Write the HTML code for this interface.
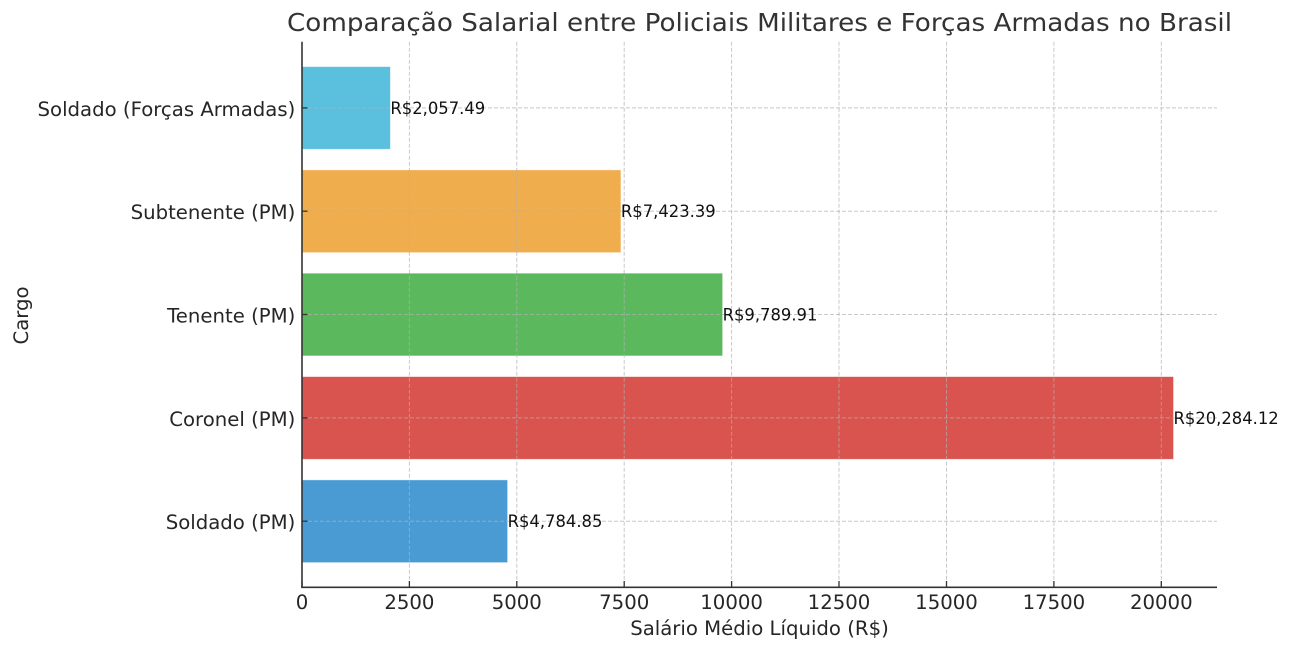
<!DOCTYPE html>
<html><head><meta charset="utf-8"><style>
html,body{margin:0;padding:0;background:#fff;}
svg{display:block;}
text{font-family:"DejaVu Sans","Liberation Sans",sans-serif;}
</style></head><body>
<svg width="1290" height="651" viewBox="0 0 1290 651" xmlns="http://www.w3.org/2000/svg">
<rect width="1290" height="651" fill="#fff"/>
<!-- bars -->
<g stroke="#ffffff" stroke-opacity="0.5" stroke-width="0.8">
<rect x="302" y="66.6" width="88.4" height="82.7" fill="#5bc0de"/>
<rect x="302" y="169.9" width="318.9" height="82.7" fill="#f0ad4e"/>
<rect x="302" y="273.2" width="420.6" height="82.7" fill="#5cb85c"/>
<rect x="302" y="376.6" width="871.5" height="82.7" fill="#d9534f"/>
<rect x="302" y="479.9" width="205.6" height="82.7" fill="#4a9bd4"/>
</g>
<!-- grid -->
<g stroke="#b0b0b0" stroke-opacity="0.7" stroke-width="1" stroke-dasharray="4,2" fill="none">
<line x1="409.4" y1="41.7" x2="409.4" y2="587.3"/>
<line x1="516.8" y1="41.7" x2="516.8" y2="587.3"/>
<line x1="624.2" y1="41.7" x2="624.2" y2="587.3"/>
<line x1="731.6" y1="41.7" x2="731.6" y2="587.3"/>
<line x1="839.0" y1="41.7" x2="839.0" y2="587.3"/>
<line x1="946.5" y1="41.7" x2="946.5" y2="587.3"/>
<line x1="1053.9" y1="41.7" x2="1053.9" y2="587.3"/>
<line x1="1161.3" y1="41.7" x2="1161.3" y2="587.3"/>
<line x1="302" y1="107.9" x2="1217" y2="107.9"/>
<line x1="302" y1="211.2" x2="1217" y2="211.2"/>
<line x1="302" y1="314.5" x2="1217" y2="314.5"/>
<line x1="302" y1="417.9" x2="1217" y2="417.9"/>
<line x1="302" y1="521.2" x2="1217" y2="521.2"/>
</g>
<!-- spines -->
<g stroke="#333" stroke-width="1.6" fill="none">
<line x1="302" y1="41.7" x2="302" y2="588"/>
<line x1="301.2" y1="587.3" x2="1217" y2="587.3"/>
</g>
<!-- ticks -->
<g stroke="#333" stroke-width="1.3">
<line x1="302" y1="581" x2="302" y2="587.3"/>
<line x1="409.4" y1="581" x2="409.4" y2="587.3"/>
<line x1="516.8" y1="581" x2="516.8" y2="587.3"/>
<line x1="624.2" y1="581" x2="624.2" y2="587.3"/>
<line x1="731.6" y1="581" x2="731.6" y2="587.3"/>
<line x1="839.0" y1="581" x2="839.0" y2="587.3"/>
<line x1="946.5" y1="581" x2="946.5" y2="587.3"/>
<line x1="1053.9" y1="581" x2="1053.9" y2="587.3"/>
<line x1="1161.3" y1="581" x2="1161.3" y2="587.3"/>
<line x1="302" y1="107.9" x2="307.5" y2="107.9"/>
<line x1="302" y1="211.2" x2="307.5" y2="211.2"/>
<line x1="302" y1="314.5" x2="307.5" y2="314.5"/>
<line x1="302" y1="417.9" x2="307.5" y2="417.9"/>
<line x1="302" y1="521.2" x2="307.5" y2="521.2"/>
</g>
<!-- x tick labels -->
<g font-size="19.7" fill="#262626" text-anchor="middle">
<text x="302" y="609">0</text>
<text x="409.4" y="609">2500</text>
<text x="516.8" y="609">5000</text>
<text x="624.2" y="609">7500</text>
<text x="731.6" y="609">10000</text>
<text x="839.0" y="609">12500</text>
<text x="946.5" y="609">15000</text>
<text x="1053.9" y="609">17500</text>
<text x="1161.3" y="609">20000</text>
</g>
<!-- y tick labels -->
<g font-size="19.7" fill="#262626" text-anchor="end">
<text x="295.3" y="115.8">Soldado (Forças Armadas)</text>
<text x="295.3" y="219.1">Subtenente (PM)</text>
<text x="295.3" y="322.4">Tenente (PM)</text>
<text x="295.3" y="425.8">Coronel (PM)</text>
<text x="295.3" y="529.1">Soldado (PM)</text>
</g>
<!-- value labels -->
<g font-size="16.4" fill="#111">
<text x="390.4" y="113.9">R$2,057.49</text>
<text x="620.9" y="217.2">R$7,423.39</text>
<text x="722.6" y="320.5">R$9,789.91</text>
<text x="1173.5" y="423.9">R$20,284.12</text>
<text x="507.6" y="527.2">R$4,784.85</text>
</g>
<!-- axis labels -->
<text x="759.5" y="635" font-size="19.7" fill="#262626" text-anchor="middle">Salário Médio Líquido (R$)</text>
<text transform="translate(28,315.5) rotate(-90)" font-size="19.7" fill="#262626" text-anchor="middle">Cargo</text>
<!-- title -->
<text x="759.5" y="31" font-size="25" fill="#333" text-anchor="middle" textLength="945" lengthAdjust="spacingAndGlyphs">Comparação Salarial entre Policiais Militares e Forças Armadas no Brasil</text>
</svg>
</body></html>
